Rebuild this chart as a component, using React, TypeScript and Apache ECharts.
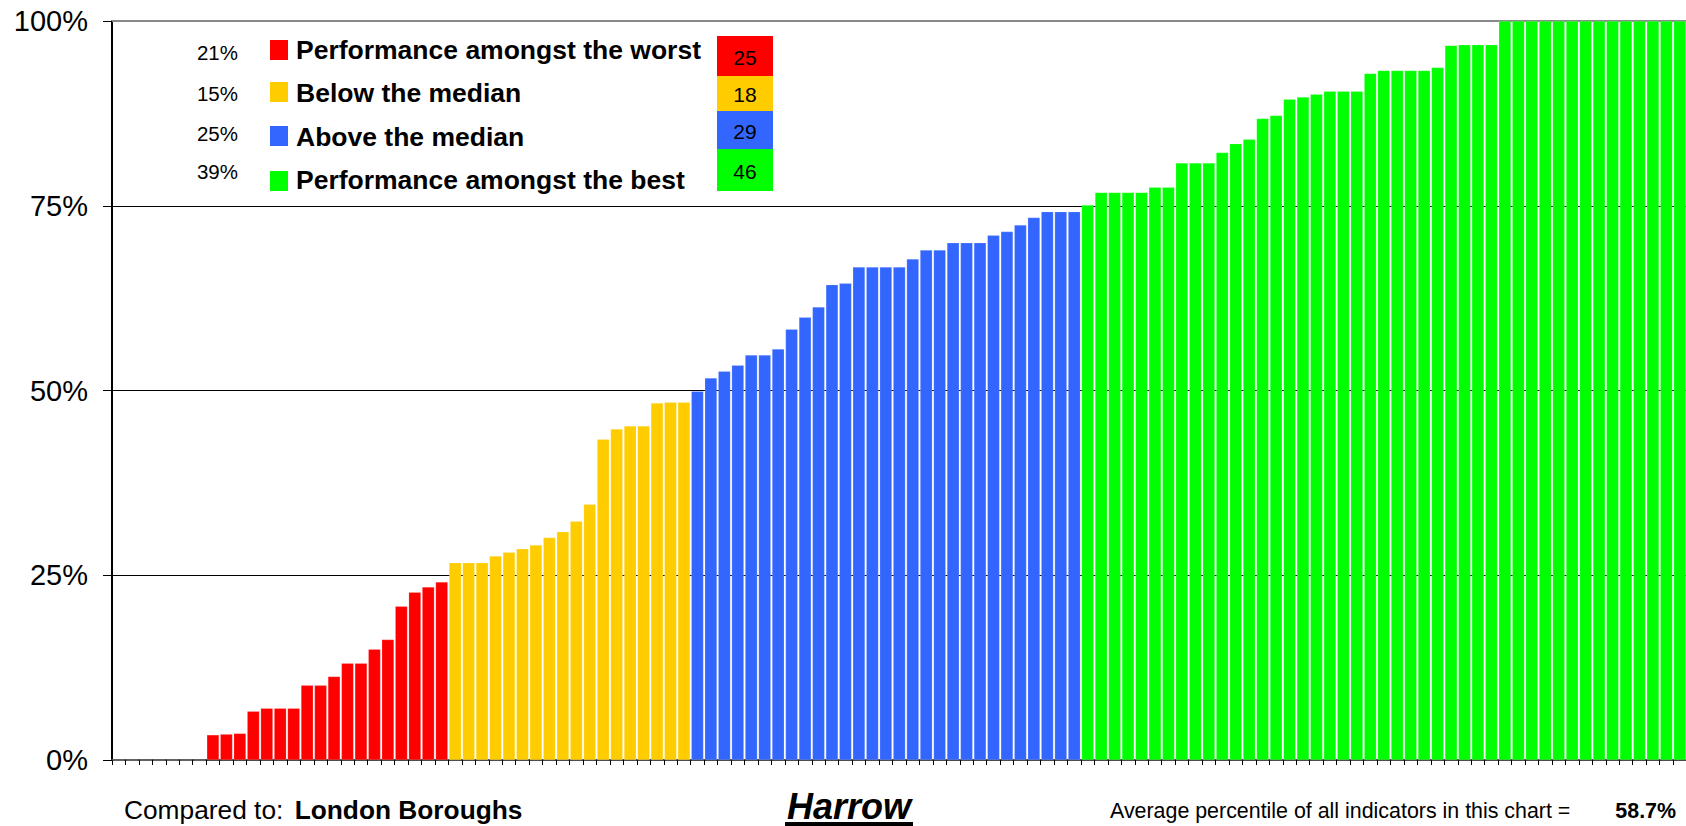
import React, { useEffect, useRef } from "react";
import * as echarts from "echarts";

// Percentile values of each indicator, sorted, grouped by performance band
const worst = [0, 0, 0, 0, 0, 0, 0, 3.4, 3.5, 3.6, 6.6, 7.0, 7.0, 7.0, 10.1, 10.1, 11.3, 13.1, 13.1, 15.0, 16.3, 20.8, 22.7, 23.4, 24.1];
const belowMedian = [26.7, 26.7, 26.7, 27.6, 28.1, 28.6, 29.1, 30.1, 30.9, 32.3, 34.6, 43.4, 44.8, 45.2, 45.2, 48.3, 48.4, 48.4];
const aboveMedian = [49.9, 51.7, 52.6, 53.4, 54.8, 54.8, 55.6, 58.3, 59.9, 61.3, 64.3, 64.5, 66.7, 66.7, 66.7, 66.7, 67.8, 69.0, 69.0, 70.0, 70.0, 70.0, 71.0, 71.5, 72.4, 73.4, 74.2, 74.2, 74.2];
const best = [75.1, 76.8, 76.8, 76.8, 76.8, 77.5, 77.5, 80.8, 80.8, 80.8, 82.2, 83.4, 84.0, 86.8, 87.2, 89.4, 89.7, 90.1, 90.5, 90.5, 90.5, 92.9, 93.3, 93.3, 93.3, 93.3, 93.7, 96.7, 96.8, 96.8, 96.8, 100, 100, 100, 100, 100, 100, 100, 100, 100, 100, 100, 100, 100, 100, 100];

const bandNames = ["Performance amongst the worst", "Below the median", "Above the median", "Performance amongst the best"];
const bandColors = ["#FF0000", "#FFCC00", "#3366FF", "#00FF00"];
const yTicks = [0, 25, 50, 75, 100];
const areaName = "Harrow";
const comparedTo = "London Boroughs";

const FONT = '"Liberation Sans", Arial, sans-serif';

export default function App() {
  const ref = useRef<HTMLDivElement>(null);
  useEffect(() => {
    if (!ref.current) return;
    const chart = echarts.init(ref.current, null, { renderer: "svg" });
    const bands = [worst, belowMedian, aboveMedian, best];
    const total = bands.reduce((s, b) => s + b.length, 0);
    const data: any[] = [];
    bands.forEach((b, bi) => {
      b.forEach((v) => data.push({ value: v, itemStyle: { color: bandColors[bi] } }));
    });
    const cats = data.map((_, i) => String(i + 1));
    const avg = data.reduce((s, d) => s + d.value, 0) / total;

    const pctY = [52, 93, 133, 171];
    const sqY = [40, 82, 126, 171];
    const labY = [50, 93, 137, 180];
    const boxY = [36, 76, 111, 149, 191];

    const graphic: any[] = [];
    bands.forEach((b, i) => {
      graphic.push({
        type: "text", x: 238, y: pctY[i],
        style: { text: Math.round((b.length / total) * 100) + "%", font: `20.5px ${FONT}`, fill: "#000", textAlign: "right", textVerticalAlign: "middle" },
      });
      graphic.push({ type: "rect", shape: { x: 270, y: sqY[i], width: 18, height: 20 }, style: { fill: bandColors[i] } });
      graphic.push({
        type: "text", x: 296, y: labY[i],
        style: { text: bandNames[i], font: `bold 26.5px ${FONT}`, fill: "#000", textAlign: "left", textVerticalAlign: "middle" },
      });
      graphic.push({ type: "rect", shape: { x: 717, y: boxY[i], width: 56, height: boxY[i + 1] - boxY[i] }, style: { fill: bandColors[i] } });
      graphic.push({
        type: "text", x: 745, y: (boxY[i] + boxY[i + 1]) / 2 + 1,
        style: { text: String(b.length), font: `21px ${FONT}`, fill: "#000", textAlign: "center", textVerticalAlign: "middle" },
      });
    });
    graphic.push({
      type: "text", x: 124, y: 810,
      style: {
        text: "{a|Compared to: }{b|" + comparedTo + "}",
        textVerticalAlign: "middle",
        rich: {
          a: { font: `26.3px ${FONT}`, fill: "#000" },
          b: { font: `bold 26.3px ${FONT}`, fill: "#000", padding: [0, 0, 0, 4] },
        },
      },
    });
    graphic.push({
      type: "text", x: 849, y: 806,
      style: { text: areaName, font: `italic bold 36px ${FONT}`, fill: "#000", textAlign: "center", textVerticalAlign: "middle" },
    });
    graphic.push({ type: "rect", shape: { x: 785, y: 822, width: 128, height: 4 }, style: { fill: "#000" } });
    graphic.push({
      type: "text", x: 1110, y: 811,
      style: { text: "Average percentile of all indicators in this chart =", font: `21.4px ${FONT}`, fill: "#000", textAlign: "left", textVerticalAlign: "middle" },
    });
    graphic.push({
      type: "text", x: 1676, y: 811,
      style: { text: avg.toFixed(1) + "%", font: `bold 21.4px ${FONT}`, fill: "#000", textAlign: "right", textVerticalAlign: "middle" },
    });

    chart.setOption({
      animation: false,
      backgroundColor: "#fff",
      grid: { left: 112, right: 0, top: 21, bottom: 66, containLabel: false },
      xAxis: [
        {
          type: "category",
          data: cats,
          boundaryGap: true,
          axisLine: { show: true, lineStyle: { color: "#444", width: 2 } },
          axisTick: { show: true, interval: 0, length: 5, lineStyle: { color: "#000", width: 1 } },
          axisLabel: { show: false },
          splitLine: { show: false },
        },
        {
          type: "category",
          data: cats,
          position: "top",
          axisLine: { show: true, lineStyle: { color: "#888", width: 2 } },
          axisTick: { show: false },
          axisLabel: { show: false },
        },
      ],
      yAxis: {
        type: "value",
        min: yTicks[0],
        max: yTicks[yTicks.length - 1],
        interval: 25,
        axisLine: { show: true, lineStyle: { color: "#000", width: 2 } },
        axisTick: { show: true, length: 9, lineStyle: { color: "#000", width: 1 } },
        axisLabel: { formatter: "{value}%", fontFamily: FONT, fontSize: 29, color: "#000", margin: 24 },
        splitLine: { show: true, lineStyle: { color: ["#000", "#000", "#000", "#000", "#888"], width: 1 } },
      },
      series: [
        {
          type: "bar",
          data,
          barCategoryGap: "9%",
          itemStyle: { borderColor: "rgba(255,255,255,0.35)", borderWidth: 0.5 },
        },
      ],
      graphic,
    });
    return () => chart.dispose();
  }, []);
  return (
    <div style={{ position: "fixed", left: 0, top: 0, width: 1686, height: 826, overflow: "hidden", background: "#fff" }}>
      <div ref={ref} style={{ width: 1700, height: 826 }} />
    </div>
  );
}
